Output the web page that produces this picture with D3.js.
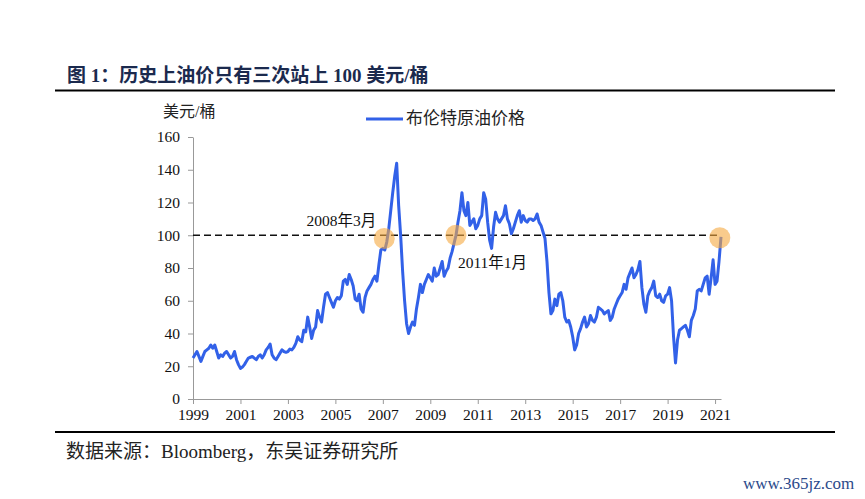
<!DOCTYPE html>
<html>
<head>
<meta charset="utf-8">
<script src="https://cdn.jsdelivr.net/npm/d3@7.9.0/dist/d3.min.js"></script>
<style>
  body { margin: 0; background: #fff; }
  svg { display: block; font-family: "Liberation Serif", "Noto Sans CJK SC", serif; }
</style>
</head>
<body>
<svg width="865" height="499"></svg>
<script>
// Brent crude, monthly readings (USD/bbl), first point = Jan of startYear
const startYear = 1999;
const brent = [
  25, 27, 29, 26, 23, 26, 29, 30, 31, 33, 31, 33,            // 1999
  29, 25, 27, 26, 28, 29, 27, 25, 26, 29, 24, 21,            // 2000
  18.7, 19.5, 21, 23, 25, 25.5, 26, 25, 24, 26, 27, 25,      // 2001
  27, 30, 31.5, 33.5, 27, 25, 24, 26, 28, 30, 29, 28.5,      // 2002
  29, 30.5, 30, 31.5, 34, 38, 36, 35, 42, 41, 50, 44,        // 2003
  37, 42, 44, 54, 50, 47, 56, 64, 65, 62, 59, 56,            // 2004
  60, 62, 61, 63, 72, 73, 70, 76, 73, 69, 61, 60,            // 2005
  64, 55, 53, 62, 66, 68, 70, 73, 75, 72, 82, 91,            // 2006
  92, 91, 96, 104, 115, 126, 136, 144, 118, 100, 78, 60,     // 2007
  46, 40, 44, 47, 45, 55, 62, 70, 65, 70, 73, 76,            // 2008
  74, 72, 80, 75, 76, 80, 84, 75, 78, 80, 86, 90,            // 2009
  95, 100, 108, 115, 126, 115, 112, 120, 106, 108, 110, 104, // 2010
  106, 110, 112, 126, 122, 108, 97, 92, 105, 114, 110, 108,  // 2011
  110, 112, 118, 110, 107, 101, 104, 108, 112, 115, 108, 112,// 2012
  109, 108, 110, 110, 109, 110, 113, 108, 106, 102, 98, 84,  // 2013
  65, 52, 54, 61, 57, 64, 65, 60, 50, 47, 48, 44,            // 2014
  38, 30, 33, 40, 43, 47, 50, 44, 46, 51, 48, 47,            // 2015
  50, 56, 55, 54, 52, 53, 54, 48, 50, 55, 58, 61,            // 2016
  63, 65, 70, 67, 74, 77, 80, 74, 76, 79, 84, 68,            // 2017
  58, 53, 63, 66, 68, 72, 63, 62, 64, 60, 59, 63,            // 2018
  64, 68, 60, 38, 22, 36, 42, 43, 44, 45, 42, 38,            // 2019
  48, 51, 55, 66, 67, 66, 70, 74, 75, 64, 74, 85,            // 2020
  70, 72, 84, 99                                             // 2021
];

const yearTicks = [1999, 2001, 2003, 2005, 2007, 2009, 2011, 2013, 2015, 2017, 2019, 2021];
const valueTicks = [0, 20, 40, 60, 80, 100, 120, 140, 160];

// the three times price stood at 100
const markDates = [2007.06, 2010.08, 2021.2];
const markValues = [98, 100, 98.5];
const markLabels = ['2008年3月', '2011年1月'];

const svg = d3.select('svg');
const blue = '#3261e8';

const x = d3.scaleLinear().domain([1999, 2021.25]).range([193, 721]);
const y = d3.scaleLinear().domain([0, 160]).range([399, 137]);

// title + rules
svg.append('text')
  .attr('x', 67).attr('y', 75)
  .attr('dominant-baseline', 'central')
  .attr('font-size', 19).attr('font-weight', 'bold')
  .attr('fill', '#1b2a4e')
  .text('图 1：历史上油价只有三次站上 100 美元/桶');

svg.append('line').attr('x1', 55).attr('x2', 835).attr('y1', 90.5).attr('y2', 90.5)
  .attr('stroke', '#000').attr('stroke-width', 2);
svg.append('line').attr('x1', 55).attr('x2', 835).attr('y1', 432).attr('y2', 432)
  .attr('stroke', '#000').attr('stroke-width', 2);

// axes
const xAxis = svg.append('g')
  .attr('transform', `translate(0,${y(0)})`)
  .call(d3.axisBottom(x).tickValues(yearTicks).tickFormat(d3.format('d'))
    .tickSize(5).tickSizeOuter(0).tickPadding(5));

const yAxis = svg.append('g')
  .attr('transform', `translate(${x(1999)},0)`)
  .call(d3.axisLeft(y).tickValues(valueTicks)
    .tickSize(5).tickSizeOuter(0).tickPadding(8));

[xAxis, yAxis].forEach(g => {
  g.select('.domain').attr('stroke', '#999');
  g.selectAll('.tick line').attr('stroke', '#999');
  g.selectAll('.tick text')
    .attr('font-family', '"Liberation Serif", serif')
    .attr('font-size', 15.5).attr('fill', '#111');
});

svg.append('text')
  .attr('x', 163).attr('y', 111)
  .attr('dominant-baseline', 'central')
  .attr('font-size', 16).attr('fill', '#222')
  .text('美元/桶');

// 100 line
svg.append('line')
  .attr('x1', x(1999)).attr('x2', x(2021.25))
  .attr('y1', y(100)).attr('y2', y(100))
  .attr('stroke', '#111').attr('stroke-width', 1.5)
  .attr('stroke-dasharray', '7,4');

// price line
const line = d3.line()
  .x((d, i) => x(startYear + i / 12))
  .y(d => y(d));

svg.append('path')
  .datum(brent)
  .attr('d', line)
  .attr('fill', 'none')
  .attr('stroke', blue)
  .attr('stroke-width', 3)
  .attr('stroke-linejoin', 'round');

// markers
svg.selectAll('circle.mark')
  .data(markDates)
  .join('circle')
  .attr('class', 'mark')
  .attr('cx', d => x(d))
  .attr('cy', (d, i) => y(markValues[i]))
  .attr('r', 10.5)
  .attr('fill', '#f5a93f')
  .attr('opacity', 0.6);

svg.append('text')
  .attr('x', x(markDates[0]) - 8).attr('y', y(markValues[0]) - 18)
  .attr('text-anchor', 'end').attr('dominant-baseline', 'central')
  .attr('font-size', 15.5).attr('fill', '#111')
  .text(markLabels[0]);

svg.append('text')
  .attr('x', x(markDates[1]) + 2).attr('y', y(markValues[1]) + 27)
  .attr('dominant-baseline', 'central')
  .attr('font-size', 15.5).attr('fill', '#111')
  .text(markLabels[1]);

// legend
svg.append('line')
  .attr('x1', 366).attr('x2', 403).attr('y1', 119).attr('y2', 119)
  .attr('stroke', blue).attr('stroke-width', 3);
svg.append('text')
  .attr('x', 406).attr('y', 118)
  .attr('dominant-baseline', 'central')
  .attr('font-size', 17).attr('fill', '#222')
  .text('布伦特原油价格');

// source + watermark
svg.append('text')
  .attr('x', 66).attr('y', 451)
  .attr('dominant-baseline', 'central')
  .attr('font-size', 19).attr('fill', '#222')
  .text('数据来源：Bloomberg，东吴证券研究所');

svg.append('text')
  .attr('x', 743).attr('y', 483)
  .attr('dominant-baseline', 'central')
  .attr('font-size', 17).attr('fill', '#2b4a8b')
  .text('www.365jz.com');
</script>
</body>
</html>
